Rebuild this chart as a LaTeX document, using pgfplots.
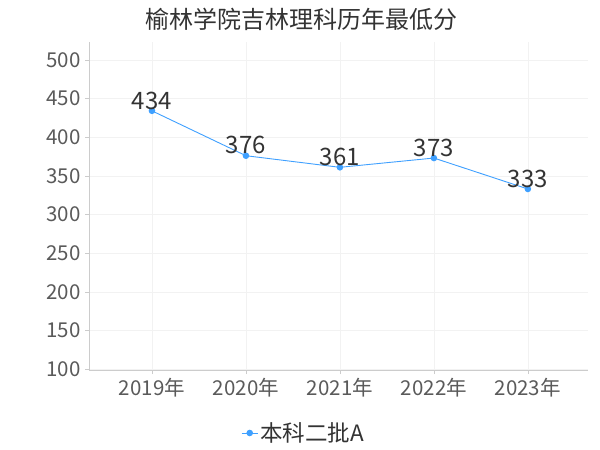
\documentclass[border=0pt]{standalone}
\usepackage{fontspec}
\setmainfont{Noto Sans CJK SC}
\usepackage{pgfplots}
\pgfplotsset{compat=1.18}
\definecolor{lineblue}{HTML}{3FA0FF}
\definecolor{ticktext}{HTML}{5A5A5A}
\definecolor{labeltext}{HTML}{333333}
\definecolor{axisgray}{HTML}{CCCCCC}
\definecolor{gridgray}{HTML}{F2F2F2}

\begin{document}
\begin{tikzpicture}[x=1pt,y=1pt]
  \path[use as bounding box] (0,0) rectangle (600,450);
  \node[font=\fontsize{24}{27}\selectfont,text=labeltext] at (301,431) {榆林学院吉林理科历年最低分};
  \begin{axis}[at={(89pt,80pt)},anchor=south west,
    scale only axis,width=499pt,height=328pt,
    xmin=-0.67,xmax=4.64,ymin=99,ymax=523,
    xtick={0,1,2,3,4},
    xticklabels={2019年,2020年,2021年,2022年,2023年},
    ytick={100,150,...,500},
    axis lines=left,axis line style={-,draw=axisgray},
    tick style={draw=axisgray},tick align=outside,major tick length=4pt,
    grid=major,major grid style={draw=gridgray},
    /pgf/number format/assume math mode=true,
    tick label style={font=\fontsize{20.5}{22}\selectfont,text=ticktext},
    xticklabel style={yshift=-1pt},
    yticklabel style={xshift=-1pt},
    nodes near coords,
    every node near coord/.append style={font=\fontsize{24}{27}\selectfont,text=labeltext,anchor=south,inner sep=1pt},
    legend style={at={(0.43,-0.192)},anchor=center,draw=none,fill=none,
      font=\fontsize{22.5}{25}\selectfont,text=labeltext,
      /tikz/every even column/.append style={column sep=2pt}},
    legend image code/.code={
      \draw[#1,mark=none] (-4pt,0pt) -- (12pt,0pt);
      \fill[lineblue] (4pt,0pt) circle (2.8pt);},
    clip=false]
    \addplot[color=lineblue,line width=0.9pt,mark=*,mark size=2.8pt,mark options={fill=lineblue,draw=lineblue}]
      coordinates {(0,434) (1,376) (2,361) (3,373) (4,333)};
    \addlegendentry{本科二批A}
  \end{axis}
\end{tikzpicture}
\end{document}
